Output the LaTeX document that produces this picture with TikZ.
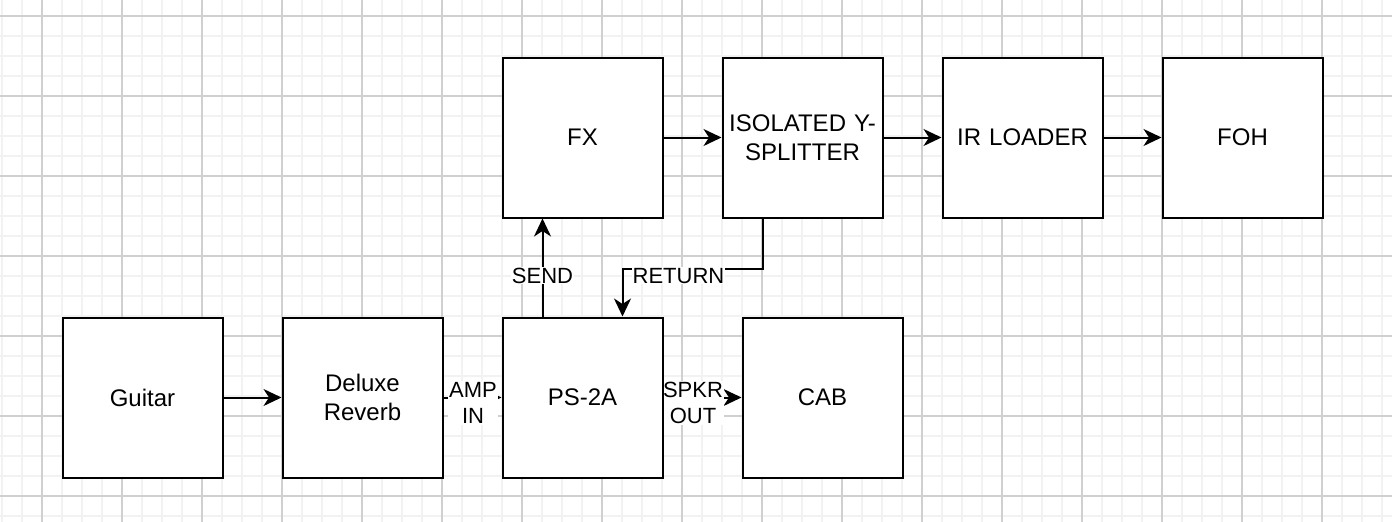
\documentclass[tikz,border=0pt]{standalone}
\usepackage{fontspec}
\setmainfont{Liberation Sans}
\usetikzlibrary{arrows.meta}
\definecolor{gridminor}{RGB}{242,242,242}
\definecolor{gridmajor}{RGB}{208,208,208}
\pgfdeclarelayer{gridlayer}
\pgfdeclarelayer{edgelayer}
\pgfdeclarelayer{labellayer}
\pgfsetlayers{gridlayer,edgelayer,labellayer,main}
\tikzset{
  minorline/.style={draw=gridminor, line width=1.5pt},
  majorline/.style={draw=gridmajor, line width=1.5pt},
  blk/.style={draw=black, line width=2pt, fill=white, minimum width=160pt, minimum height=160pt,
    inner sep=2pt, align=center, text width=150pt, font=\fontsize{24}{28.8}\selectfont},
  arr/.style={draw=black, line width=2pt, -{Stealth[length=18pt,width=17pt,inset=5.5pt]}},
  lbl/.style={fill=white, inner sep=1pt, align=center, font=\fontsize{22}{26.4}\selectfont},
}
\begin{document}
\begin{tikzpicture}[x=1pt,y=-1pt]
\useasboundingbox (0,0) rectangle (1392,522);
\begin{pgfonlayer}{gridlayer}
\fill[white] (0,0) rectangle (1392,522);
\foreach \x in {2,22,...,1392} {\draw[minorline] (\x,0) -- (\x,522);}
\foreach \y in {16,36,...,522} {\draw[minorline] (0,\y) -- (1392,\y);}
\foreach \x in {42,122,...,1392} {\draw[majorline] (\x,0) -- (\x,522);}
\foreach \y in {16,96,...,522} {\draw[majorline] (0,\y) -- (1392,\y);}
\end{pgfonlayer}
% boxes
\node[blk] (guitar) at (142.5,397.5) {Guitar};
\node[blk] (deluxe) at (362.5,397.5) {Deluxe\\Reverb};
\node[blk] (ps) at (582.5,397.5) {PS-2A};
\node[blk] (cab) at (822.5,397.5) {CAB};
\node[blk] (fx) at (582.5,137.5) {FX};
\node[blk] (iso) at (802.5,137.5) {ISOLATED Y-\\SPLITTER};
\node[blk] (ir) at (1022.5,137.5) {IR LOADER};
\node[blk] (foh) at (1242.5,137.5) {FOH};
% connectors
\begin{pgfonlayer}{edgelayer}
\draw[arr] (guitar) -- (deluxe);
\draw[arr] (deluxe) -- (ps);
\draw[arr] (ps) -- (cab);
\draw[arr] (fx) -- (iso);
\draw[arr] (iso) -- (ir);
\draw[arr] (ir) -- (foh);
\draw[arr] ([xshift=-40pt]ps.north) -- ([xshift=-40pt]fx.south);
\coordinate (rt) at ([xshift=-40pt,yshift=-50pt]iso.south);
\draw[arr] ([xshift=-40pt]iso.south) -- (rt) -| ([xshift=40pt]ps.north);
\end{pgfonlayer}
% labels
\begin{pgfonlayer}{labellayer}
\node[lbl] (lamp) at (473,403) {AMP\\IN};
\node[lbl] (lspkr) at (693,403) {SPKR\\OUT};
\node[lbl, anchor=base] (lsend) at (542.5,283) {SEND};
\node[lbl, anchor=base] (lret) at (678.5,283) {RETURN};
\end{pgfonlayer}
\end{tikzpicture}
\end{document}
